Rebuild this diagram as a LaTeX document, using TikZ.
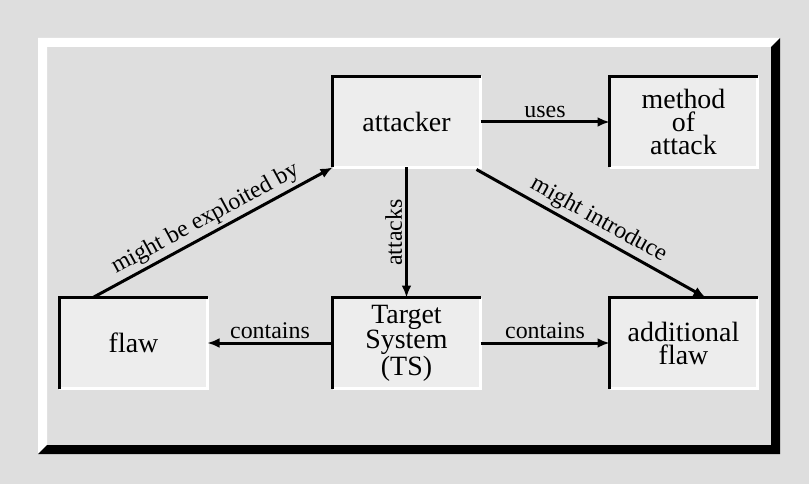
\documentclass[tikz,border=0pt]{standalone}
\usepackage{fontspec}
\setmainfont{Liberation Serif}
\usetikzlibrary{positioning}
\usetikzlibrary{calc}
\usetikzlibrary{arrows.meta}

\definecolor{paper}{gray}{0.87}
\definecolor{boxpaper}{gray}{0.93}

\tikzset{
  box/.style      = { rectangle, minimum width=145bp, minimum height=88bp, inner sep=0pt,
                      fill=boxpaper, align=center, font=\fontsize{28}{23}\selectfont },
  relation/.style = { font=\fontsize{24}{24}\selectfont, inner sep=3bp },
  rim/.style      = { white, line width=2.5bp },
  edge/.style     = { black, line width=3.5bp },
}

\begin{document}
\begin{tikzpicture}[
  x=1bp,y=-1bp,
  node distance=129bp,
  line width=3bp,>={Latex[length=12bp,width=10bp]}
]
  % paper and bevelled frame
  \fill[paper] (0,0) rectangle (809,484);
  \useasboundingbox (0,0) rectangle (809,484);
  \fill[white] (38,38) -- (780,38) -- (771,47) -- (47,47) -- (47,445) -- (38,454) -- cycle;
  \fill[black] (780,38) -- (780,454) -- (38,454) -- (47,445) -- (771,445) -- (771,47) -- cycle;

  \node (attacker) [box] at (406.5,122)           {attacker};
  \node (method)   [box,right=of attacker]        {method\\of\\attack};
  \node (ts)       [box,below=130bp of attacker]  {Target\\System\\(TS)};
  \node (flaw)     [box,left=125bp of ts]         {flaw};
  \node (addflaw)  [box,right=of ts]              {additional\\flaw};

  % sunken box edges
  \foreach \n in {attacker,method,flaw,ts,addflaw} {
    \draw [rim]  (\n.north east) -- (\n.south east) -- (\n.south west);
    \draw [edge] (\n.south west) -- (\n.north west) -- (\n.north east);
  }

  \draw [->] (attacker.east)  -- (method.west) node [relation,midway,above] {uses};
  \draw [->] (attacker.south) -- (ts.north)
             node [relation,midway,rotate=90,anchor=south] {attacks};
  \draw [->] (ts.west)        -- (flaw.east)   node [relation,midway,above] {contains};
  \draw [->] (ts.east)        -- (addflaw.west) node [relation,midway,above] {contains};

  \draw [->] ($ (flaw.north west) + (33.5,0) $) -- (attacker.south west)
             node [relation,midway,sloped,above] {might be exploited by};
  \draw [->] ($ (attacker.south east) + (-4,2) $) -- ($ (addflaw.north west) + (96,0) $)
             node [relation,midway,sloped,above] {might introduce};
\end{tikzpicture}
\end{document}
